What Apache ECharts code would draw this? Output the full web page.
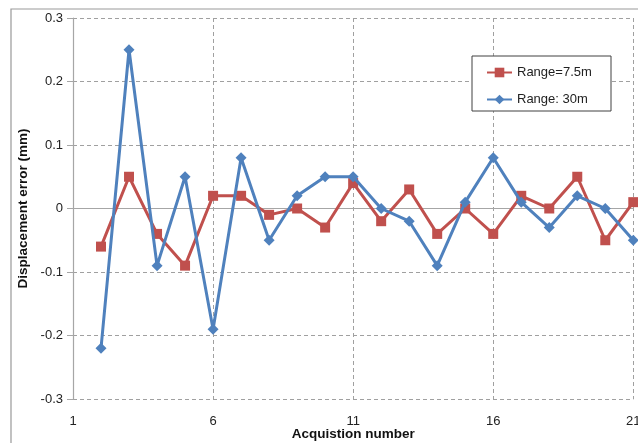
<!DOCTYPE html>
<html>
<head>
<meta charset="utf-8">
<script src="https://cdn.jsdelivr.net/npm/echarts@6/dist/echarts.min.js"></script>
<style>
html,body{margin:0;padding:0;background:#fff;}
#c{width:638px;height:443px;}
</style>
</head>
<body>
<div id="c"></div>
<script>
var acquisitions = [2,3,4,5,6,7,8,9,10,11,12,13,14,15,16,17,18,19,20,21];
var range75 = [-0.06,0.05,-0.04,-0.09,0.02,0.02,-0.01,0,-0.03,0.04,-0.02,0.03,-0.04,0,-0.04,0.02,0,0.05,-0.05,0.01];
var range30 = [-0.22,0.25,-0.09,0.05,-0.19,0.08,-0.05,0.02,0.05,0.05,0,-0.02,-0.09,0.01,0.08,0.01,-0.03,0.02,0,-0.05];
var seriesNames = ['Range=7.5m','Range: 30m'];
var xTitle = 'Acquistion number';
var yTitle = 'Displacement error (mm)';

function pairs(xs, ys){ return xs.map(function(x,i){ return [x, ys[i]]; }); }

var font = '"Liberation Sans", Arial, sans-serif';
var chart = echarts.init(document.getElementById('c'), null, {renderer:'canvas'});
chart.setOption({
  animation:false,
  backgroundColor:'#fff',
  textStyle:{fontFamily:font},
  graphic:[
    {type:'rect', shape:{x:11,y:9,width:700,height:500}, style:{fill:null, stroke:'#999', lineWidth:1.2}, silent:true, z:-10},
    {type:'rect', shape:{x:472,y:56,width:139,height:55}, style:{fill:'#fff', stroke:'#404040', lineWidth:1}, z:50}
  ],
  grid:{left:73, right:4.7, top:18, bottom:44, containLabel:false, outerBoundsMode:'none'},
  legend:{
    orient:'vertical', left:486, top:66, padding:0, itemWidth:25, itemHeight:12, itemGap:14,
    z:60,
    textStyle:{fontFamily:font, fontSize:13, color:'#222'},
    data:seriesNames
  },
  xAxis:[
    {type:'value', min:1, max:21, interval:5, position:'top',
     axisLine:{show:true, onZero:true, lineStyle:{color:'#a6a6a6', width:1.2}},
     axisTick:{show:false}, axisLabel:{show:false},
     splitLine:{show:true, lineStyle:{color:'#a0a0a0', type:[4,3], width:1}}},
    {type:'value', min:1, max:21, interval:5, position:'bottom',
     axisLine:{show:false}, axisTick:{show:false},
     axisLabel:{margin:16, fontSize:13, color:'#222', fontFamily:font},
     splitLine:{show:false},
     name:xTitle, nameLocation:'middle', nameGap:28, nameMoveOverlap:false,
     nameTextStyle:{fontSize:13.5, fontWeight:'bold', color:'#111', fontFamily:font}}
  ],
  yAxis:{type:'value', min:-0.3, max:0.3, interval:0.1,
    axisLine:{show:true, lineStyle:{color:'#a6a6a6', width:1.2}},
    axisTick:{show:true, inside:false, length:6, lineStyle:{color:'#a6a6a6'}},
    axisLabel:{margin:10, fontSize:13, color:'#222', fontFamily:font,
      formatter:function(v){ return String(Math.round(v*10)/10); }},
    splitLine:{show:true, lineStyle:{color:'#a0a0a0', type:[4,3], width:1}},
    name:yTitle, nameLocation:'middle', nameGap:43, nameMoveOverlap:false,
    nameTextStyle:{fontSize:13.5, fontWeight:'bold', color:'#111', fontFamily:font}},
  series:[
    {name:seriesNames[0], type:'line', xAxisIndex:0, data:pairs(acquisitions, range75),
     symbol:'rect', symbolSize:10, showAllSymbol:true,
     lineStyle:{color:'#C0504D', width:3}, itemStyle:{color:'#C0504D'}, z:3},
    {name:seriesNames[1], type:'line', xAxisIndex:0, data:pairs(acquisitions, range30),
     symbol:'diamond', symbolSize:11, showAllSymbol:true,
     lineStyle:{color:'#4F81BD', width:3}, itemStyle:{color:'#4F81BD'}, z:4}
  ]
});
</script>
</body>
</html>
